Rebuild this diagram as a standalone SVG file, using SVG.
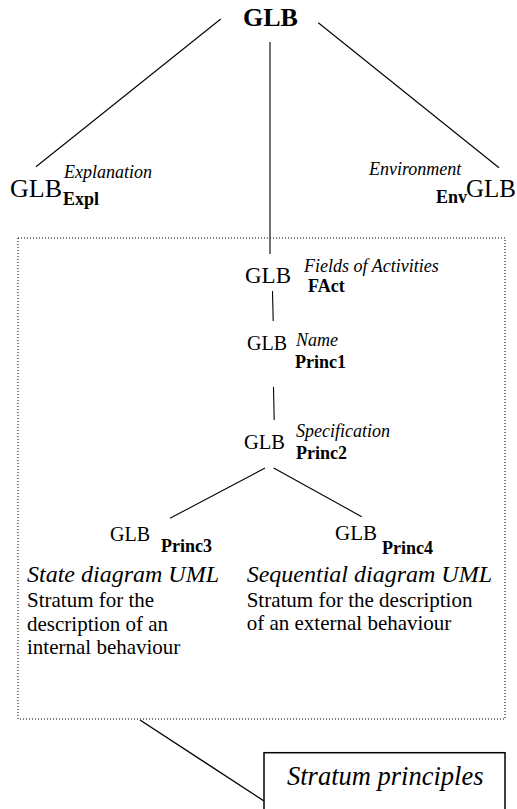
<svg xmlns="http://www.w3.org/2000/svg" width="517" height="809" viewBox="0 0 517 809">
<style>
text{font-family:"Liberation Serif","Times New Roman",serif;fill:#000}
.it{font-style:italic;font-size:18px}
.sb{font-weight:bold;font-size:18px}
.g20{font-size:20px}
.body{font-size:21px}
.hd{font-style:italic;font-size:24px}
.conn line{stroke:#000;stroke-width:1.1;fill:none}
</style>
<rect width="517" height="809" fill="#fff"/>
<g id="connectors" class="conn">
<line x1="220.7" y1="19" x2="36" y2="166.7"/>
<line x1="270" y1="42" x2="270" y2="254"/>
<line x1="318.3" y1="22.7" x2="499" y2="167.7"/>
<line x1="272.5" y1="291" x2="273.2" y2="321"/>
<line x1="273.5" y1="387" x2="274.2" y2="420"/>
<line x1="265" y1="468" x2="170" y2="518.3"/>
<line x1="273.7" y1="468" x2="361.7" y2="516.7"/>
<line x1="140" y1="720" x2="264" y2="801" style="stroke-width:1.4"/>
</g>
<g id="stratum-frame">
<rect x="18" y="238" width="487" height="481" fill="none" stroke="#000" stroke-width="1" stroke-dasharray="1,2"/>
</g>
<g id="glb-root">
<text x="243" y="26" font-size="26" font-weight="bold">GLB</text>
</g>
<g id="glb-expl">
<text x="10" y="197" font-size="26">GLB</text>
<text x="64" y="178" class="it">Explanation</text>
<text x="63" y="205" class="sb">Expl</text>
</g>
<g id="glb-env">
<text x="369" y="175" class="it">Environment</text>
<text x="436" y="203" class="sb">Env</text>
<text x="466" y="197" font-size="25">GLB</text>
</g>
<g id="glb-fact">
<text x="245" y="283" font-size="23">GLB</text>
<text x="304" y="272" class="it">Fields of Activities</text>
<text x="308" y="292" class="sb">FAct</text>
</g>
<g id="glb-princ1">
<text x="247" y="350" class="g20">GLB</text>
<text x="296" y="346" class="it">Name</text>
<text x="295" y="368" class="sb">Princ1</text>
</g>
<g id="glb-princ2">
<text x="244" y="448.5" font-size="20.5">GLB</text>
<text x="296" y="436.5" class="it">Specification</text>
<text x="296" y="459" class="sb">Princ2</text>
</g>
<g id="glb-princ3">
<text x="110" y="540.7" class="g20">GLB</text>
<text x="161" y="551.7" class="sb">Princ3</text>
<text x="27" y="582" class="hd">State diagram UML</text>
<text x="27" y="607" class="body">Stratum for the</text>
<text x="27" y="630.5" class="body">description of an</text>
<text x="27" y="654" class="body">internal behaviour</text>
</g>
<g id="glb-princ4">
<text x="335" y="540" font-size="21">GLB</text>
<text x="382" y="554" class="sb">Princ4</text>
<text x="246.7" y="582" class="hd">Sequential diagram UML</text>
<text x="246.7" y="607" class="body">Stratum for the description</text>
<text x="246.7" y="630" class="body">of an external behaviour</text>
</g>
<g id="stratum-principles">
<rect x="264" y="752.7" width="241" height="70" fill="#fff" stroke="#000" stroke-width="1.5"/>
<text x="287" y="785" font-size="26.5" font-style="italic">Stratum principles</text>
</g>
</svg>
